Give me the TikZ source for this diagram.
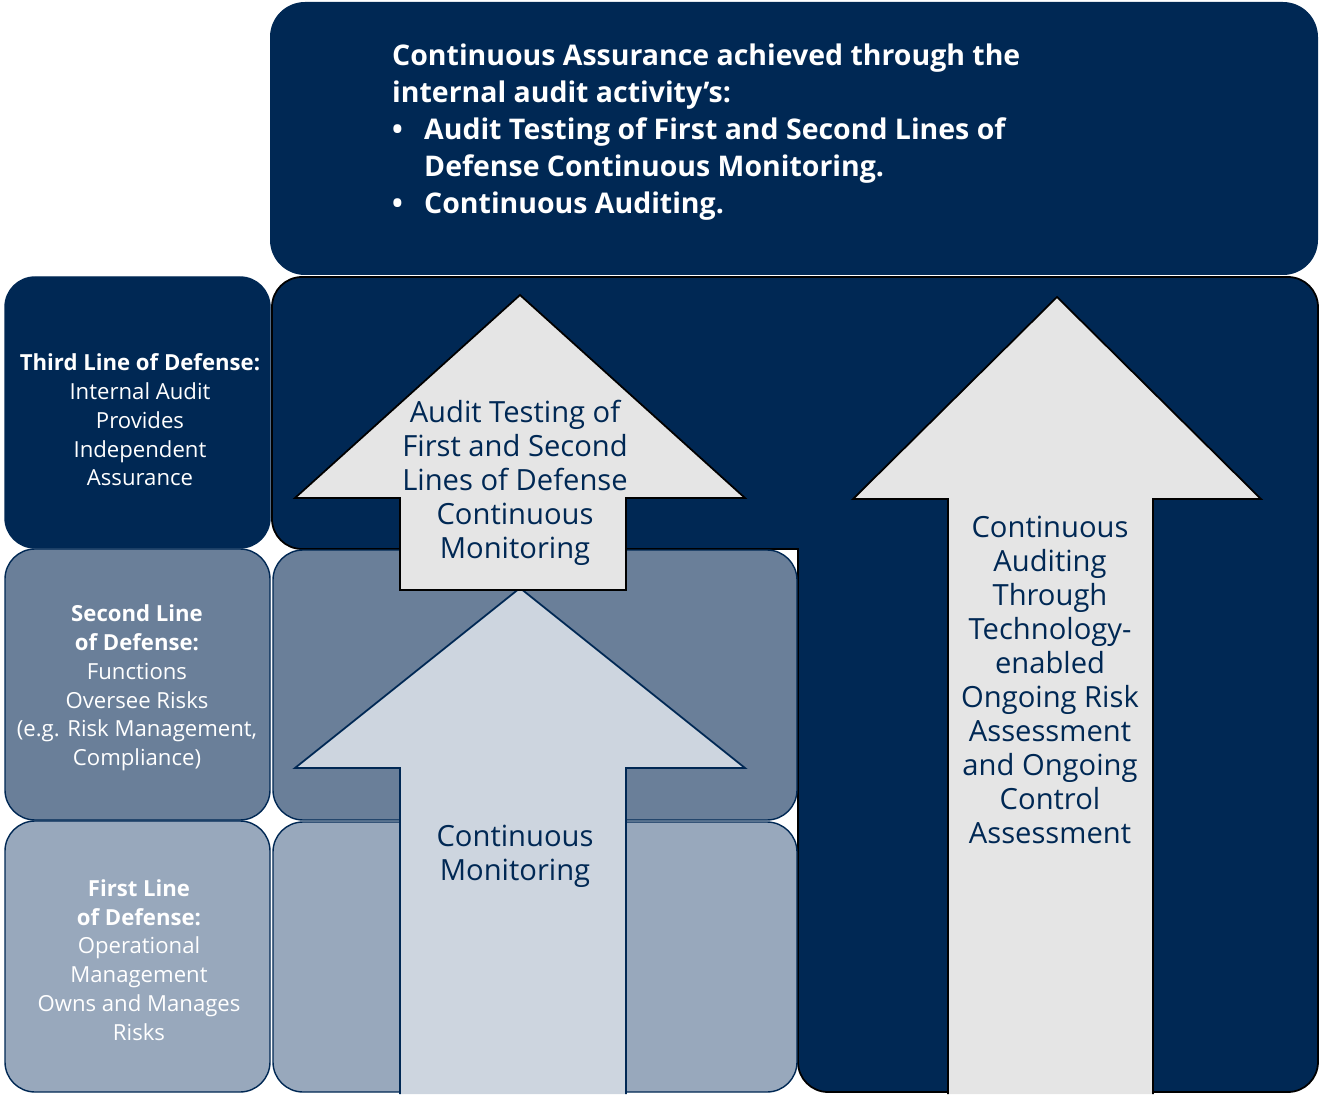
\documentclass[tikz,border=0pt]{standalone}
\usepackage{fontspec}
\setmainfont{Open Sans}
\usetikzlibrary{positioning}
\definecolor{navy}{RGB}{0,40,84}
\definecolor{slate}{RGB}{106,127,153}
\definecolor{mist}{RGB}{152,168,188}
\definecolor{pale}{RGB}{229,229,229}
\definecolor{frost}{RGB}{205,213,223}

\begin{document}
\begin{tikzpicture}[x=0.02cm, y=-0.02cm,
    band/.style = {draw=navy, line width=0.8pt, rounded corners=0.6cm},
    bigarrow/.style = {line width=1pt, line join=miter},
    sidetext/.style = {align=center, text=white, font=\fontsize{12.6}{16.4}\selectfont},
    arrowtext/.style = {align=center, text=navy, font=\fontsize{16.6}{19.3}\selectfont}]
  \useasboundingbox (0,0) rectangle (1320,1095);

  % top banner
  \fill[navy, rounded corners=0.7cm] (270,2) rectangle (1318,275);

  % left column: three lines of defense
  \draw[band, fill=navy]  (5,277) rectangle (270,548);
  \draw[band, fill=slate] (5,549) rectangle (270,820);
  \draw[band, fill=mist]  (5,821) rectangle (270,1092);

  % dark L behind the arrows
  \draw[fill=navy, line width=1pt, rounded corners=0.6cm]
    (272,549) -- (272,277) -- (1318,277) -- (1318,1092) -- (798,1092)
    [sharp corners] -- (798,549) [rounded corners=0.6cm] -- cycle;

  % middle column
  \draw[band, fill=slate] (273,550) rectangle (797,820);
  \draw[band, fill=mist]  (273,822) rectangle (797,1092);

  % arrows
  \draw[bigarrow, draw=navy, fill=frost]
    (400,1094) -- (400,768) -- (295,768) -- (520,588) -- (745,768) -- (626,768) -- (626,1094);
  \draw[bigarrow, draw=black, fill=pale]
    (400,590) -- (400,498) -- (295,498) -- (520,295) -- (745,498) -- (626,498) -- (626,590) -- cycle;
  \draw[bigarrow, draw=black, fill=pale]
    (948,1094) -- (948,499) -- (853,499) -- (1057,297) -- (1261,499) -- (1153,499) -- (1153,1094);

  % texts
  \node[anchor=north west, text=white, align=left,
        font=\bfseries\fontsize{16.2}{21}\selectfont] (summary) at (386,38)
    {Continuous Assurance achieved through the\\
     internal audit activity’s:\\
     \makebox[0.64cm][l]{\textbullet}Audit Testing of First and Second Lines of\\
     \makebox[0.64cm][l]{}Defense Continuous Monitoring.\\
     \makebox[0.64cm][l]{\textbullet}Continuous Auditing.};

  \node[sidetext] (third) at (140,420)
    {\textbf{Third Line of Defense:}\\ Internal Audit\\ Provides\\ Independent\\ Assurance};
  \node[sidetext] (second) at (137,688)
    {\textbf{Second Line}\\ \textbf{of Defense:}\\ Functions\\ Oversee Risks\\ (e.g. Risk Management,\\ Compliance)};
  \node[sidetext] (first) at (139,960)
    {\textbf{First Line}\\ \textbf{of Defense:}\\ Operational\\ Management\\ Owns and Manages\\ Risks};

  \node[arrowtext] (testing) at (515,483)
    {Audit Testing of\\ First and Second\\ Lines of Defense\\ Continuous\\ Monitoring};
  \node[arrowtext] (monitoring) at (515,856) {Continuous\\ Monitoring};
  \node[arrowtext] (auditing) at (1050,680)
    {Continuous\\ Auditing\\ Through\\ Technology-\\ enabled\\ Ongoing Risk\\ Assessment\\ and Ongoing\\ Control\\ Assessment};
\end{tikzpicture}
\end{document}
